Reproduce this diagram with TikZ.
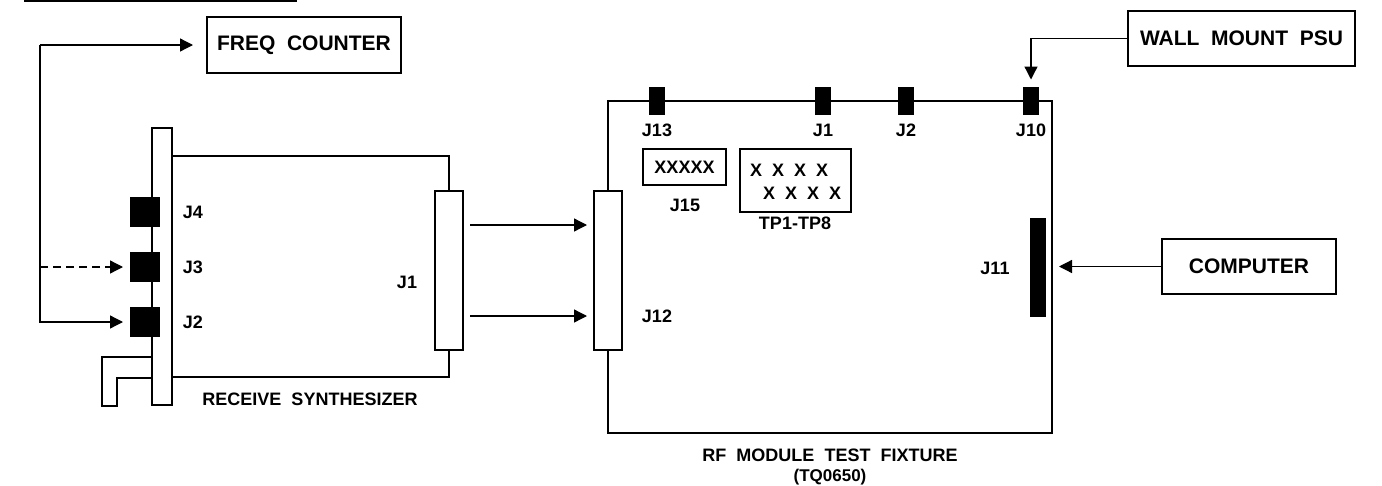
\documentclass[tikz,border=0pt]{standalone}
\usepackage{fontspec}
\setmainfont{Liberation Sans}
\usetikzlibrary{arrows.meta}
\newcommand\dsp{\hspace{0.556em}}
\begin{document}
\begin{tikzpicture}[x=1pt,y=-1pt,
  every node/.style={inner sep=0pt,outer sep=0pt},
  box/.style={draw,line width=1.3pt,rectangle,fill=white},
  lbl/.style={font=\fontsize{18}{20}\selectfont\bfseries},
  blbl/.style={font=\fontsize{21}{24}\selectfont\bfseries},
  conn/.style={draw,line width=1.3pt,fill=black},
  wire/.style={line width=1.3pt},
  arr/.style={line width=1.3pt,-{Triangle[length=13pt,width=13pt]}}]
\useasboundingbox (0,0) rectangle (1382,485);
% clipped title underline
\draw[line width=1.5pt] (24,1) -- (297,1);
% FREQ COUNTER
\node[box,blbl,minimum width=194pt,minimum height=56pt] (freq) at (304,45) {FREQ\dsp COUNTER};
% receive synthesizer
\draw[wire] (172,156) rectangle (449,377);
\node[box,minimum width=20pt,minimum height=277pt] (strip) at (162,266.5) {};
\node[box,minimum width=28pt,minimum height=159pt] (rsj1) at (449,270.5) {};
\node[conn,minimum width=28pt,minimum height=28pt] (j4) at (145,212) {};
\node[conn,minimum width=28pt,minimum height=28pt] (j3) at (145,267) {};
\node[conn,minimum width=28pt,minimum height=28pt] (j2) at (145,322) {};
\draw[wire] (152,357) -- (102,357) -- (102,406) -- (117,406) -- (117,378) -- (152,378);
\node[lbl] (lj4) at (193,212) {J4};
\node[lbl] (lj3) at (193,267) {J3};
\node[lbl] (lj2) at (193,322) {J2};
\node[lbl] (lrsj1) at (407,282) {J1};
\node[lbl] (lrs) at (310,399) {RECEIVE\dsp SYNTHESIZER};
% arrows on the left
\coordinate (tl) at (40,45);
\coordinate (bl) at (40,322);
\coordinate (dl) at (40,267);
\draw[arr,shorten >=14pt] (tl) -- (freq.west);
\draw[arr,shorten >=8pt] (tl) -- (bl) -- (j2.west);
\draw[arr,dashed,dash pattern=on 8pt off 5pt,shorten >=8pt] (dl) -- (j3.west);
% RF module test fixture
\draw[wire] (608,101) rectangle (1052,433);
\node[box,minimum width=28pt,minimum height=159pt] (j12) at (608,270.5) {};
\node[conn,minimum width=14pt,minimum height=27pt] (j13) at (657,101) {};
\node[conn,minimum width=14pt,minimum height=27pt] (fj1) at (823,101) {};
\node[conn,minimum width=14pt,minimum height=27pt] (fj2) at (906,101) {};
\node[conn,minimum width=14pt,minimum height=27pt] (j10) at (1031,101) {};
\node[conn,minimum width=14pt,minimum height=97pt] (j11) at (1038,267.5) {};
\node[lbl] (lj13) at (657,130) {J13};
\node[lbl] (lfj1) at (823,130) {J1};
\node[lbl] (lfj2) at (906,130) {J2};
\node[lbl] (lj10) at (1031,130) {J10};
\node[lbl] (lj11) at (995,268) {J11};
\node[lbl] (lj12) at (657,316) {J12};
\node[box,lbl,minimum width=83pt,minimum height=36pt] (j15) at (684.5,167) {XXXXX};
\node[lbl] (lj15) at (685,205) {J15};
\node[box,minimum width=111pt,minimum height=63pt] (tp) at (795.5,180.5) {};
\node[lbl,anchor=west] (tpa) at (750,170) {X\dsp X\dsp X\dsp X};
\node[lbl,anchor=west] (tpb) at (763,193) {X\dsp X\dsp X\dsp X};
\node[lbl] (ltp) at (795,223) {TP1-TP8};
\node[lbl] (lfix) at (830,455) {RF\dsp MODULE\dsp TEST\dsp FIXTURE};
\node[font=\fontsize{17}{19}\selectfont\bfseries] (ltq) at (830,477) {(TQ0650)};
% J1 -> J12
\coordinate (a1) at (500,225);
\coordinate (a2) at (500,316);
\draw[arr,shorten <=7pt,shorten >=7pt] (rsj1.east |- a1) -- (j12.west |- a1);
\draw[arr,shorten <=7pt,shorten >=7pt] (rsj1.east |- a2) -- (j12.west |- a2);
% PSU
\node[box,blbl,minimum width=227pt,minimum height=55pt] (psu) at (1241.5,38.5) {WALL\dsp MOUNT\dsp PSU};
\draw[arr,shorten >=8pt] (psu.west) -| (j10.north);
% computer
\node[box,blbl,minimum width=174pt,minimum height=55pt] (comp) at (1249,266.5) {COMPUTER};
\coordinate (fr) at (1052,266.5);
\draw[arr,shorten >=7pt] (comp.west) -- (fr);
\end{tikzpicture}
\end{document}
